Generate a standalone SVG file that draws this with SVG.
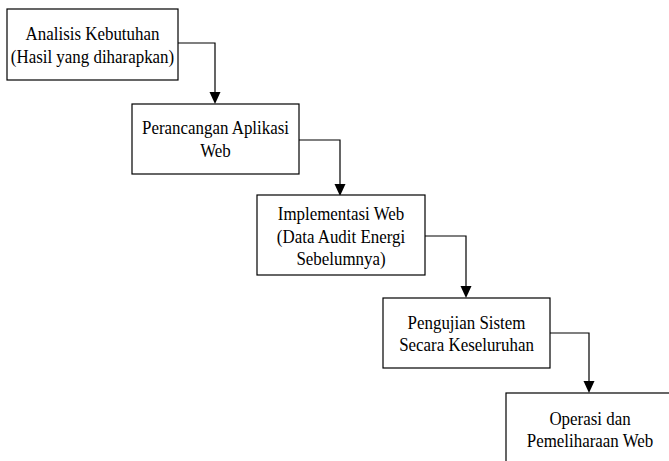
<svg xmlns="http://www.w3.org/2000/svg" width="669" height="461" viewBox="0 0 669 461">
<style>
.box{fill:#fff;stroke:#000;stroke-width:1.2}
.c{fill:none;stroke:#000;stroke-width:1.2}
.h{fill:#000}
</style>
<rect width="669" height="461" fill="#fff"/>
<g id="connectors">
<path class="c" d="M178,43 H215 V92"/>
<path class="h" d="M209.5,92 H220.5 L215,104 Z"/>
<path class="c" d="M299,140 H340 V184"/>
<path class="h" d="M334.5,184 H345.5 L340,196 Z"/>
<path class="c" d="M425,236 H466 V286"/>
<path class="h" d="M460.5,286 H471.5 L466,298 Z"/>
<path class="c" d="M550,333 H589 V381"/>
<path class="h" d="M583.5,381 H594.5 L589,393 Z"/>
</g>
<g font-family="'Liberation Serif', 'Times New Roman', serif" font-size="18" text-anchor="middle" fill="#000">
<g id="n1">
<rect class="box" x="7" y="9" width="171" height="71"/>
<g transform="translate(92.5 0) scale(0.94 1)">
<text x="0" y="40">Analisis Kebutuhan</text>
<text x="0" y="63">(Hasil yang diharapkan)</text>
</g>
</g>
<g id="n2">
<rect class="box" x="132" y="104" width="167" height="70"/>
<g transform="translate(215.5 0) scale(0.94 1)">
<text x="0" y="134">Perancangan Aplikasi</text>
<text x="0" y="157">Web</text>
</g>
</g>
<g id="n3">
<rect class="box" x="257" y="195" width="168" height="80"/>
<g transform="translate(341 0) scale(0.94 1)">
<text x="0" y="220">Implementasi Web</text>
<text x="0" y="243">(Data Audit Energi</text>
<text x="0" y="265">Sebelumnya)</text>
</g>
</g>
<g id="n4">
<rect class="box" x="383" y="298" width="167" height="70"/>
<g transform="translate(466.5 0) scale(0.94 1)">
<text x="0" y="329">Pengujian Sistem</text>
<text x="0" y="351">Secara Keseluruhan</text>
</g>
</g>
<g id="n5">
<rect class="box" x="506" y="393" width="168" height="75"/>
<g transform="translate(590 0) scale(0.94 1)">
<text x="0" y="425">Operasi dan</text>
<text x="0" y="447">Pemeliharaan Web</text>
</g>
</g>
</g>
</svg>
